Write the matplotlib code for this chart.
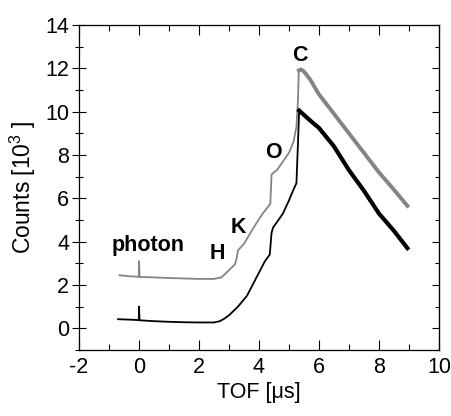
import matplotlib
matplotlib.use("Agg")
import matplotlib.pyplot as plt
from matplotlib.ticker import MultipleLocator

plt.rcParams['font.family'] = ['Liberation Sans', 'DejaVu Sans']
plt.rcParams['mathtext.fontset'] = 'custom'
plt.rcParams['mathtext.rm'] = 'Liberation Sans'
plt.rcParams['axes.unicode_minus'] = False

# Upper (gray) spectrum
gray_x = [-0.65, -0.3, -0.02, 0.0, 0.0, 0.02, 0.5, 1.0, 1.5, 2.0, 2.5, 2.75, 2.9, 3.05, 3.2,
          3.25, 3.3, 3.5, 3.8, 4.1, 4.3, 4.38, 4.42, 4.5, 4.6, 4.8, 5.0, 5.15, 5.25, 5.3,
          5.33, 5.4, 5.5, 5.7, 6.0, 6.5, 7.0, 7.5, 8.0, 8.5, 8.95]
gray_y = [2.45, 2.4, 2.38, 2.38, 3.1, 2.37, 2.35, 2.32, 2.3, 2.28, 2.28, 2.35, 2.55, 2.75, 2.95,
          3.2, 3.6, 3.9, 4.6, 5.25, 5.6, 5.75, 7.1, 7.2, 7.3, 7.7, 8.1, 8.6, 9.3, 10.5,
          11.9, 11.95, 11.85, 11.5, 10.8, 9.9, 9.0, 8.1, 7.2, 6.4, 5.65]

# Lower (black) spectrum
black_x = [-0.7, -0.3, -0.02, 0.0, 0.0, 0.02, 0.5, 1.0, 1.5, 2.0, 2.5, 2.7, 2.85, 3.0, 3.3,
           3.6, 3.9, 4.2, 4.36, 4.42, 4.47, 4.6, 4.8, 5.0, 5.15, 5.25, 5.3, 5.34, 5.5, 5.7,
           6.0, 6.5, 7.0, 7.5, 8.0, 8.5, 8.95]
black_y = [0.42, 0.4, 0.38, 0.38, 1.0, 0.37, 0.33, 0.3, 0.28, 0.27, 0.27, 0.33, 0.45, 0.6, 1.0,
           1.5, 2.3, 3.1, 3.4, 4.4, 4.65, 4.9, 5.3, 5.9, 6.4, 6.7, 8.5, 10.05, 9.85, 9.6,
           9.25, 8.4, 7.3, 6.35, 5.3, 4.5, 3.7]

labels = ["photon", "H", "K", "O", "C"]
label_x = [0.3, 2.63, 3.33, 4.47, 5.37]
label_y = [3.83, 3.45, 4.65, 8.1, 12.57]

fig = plt.figure(figsize=(4.52, 4.16), dpi=100)
ax = fig.add_axes([0.1748, 0.1587, 0.7962, 0.7813])

ax.plot(gray_x, gray_y, color='#848484', lw=1.3)
ax.plot(black_x, black_y, color='black', lw=1.3)
# thicker, noisy-looking decay parts
gi = gray_x.index(5.33)
bi = black_x.index(5.34)
ax.plot(gray_x[gi:], gray_y[gi:], color='#848484', lw=2.8)
ax.plot(black_x[bi:], black_y[bi:], color='black', lw=3.0)

for t, x, y in zip(labels, label_x, label_y):
    ax.text(x, y, t, fontsize=15.5, fontweight='bold', ha='center', va='center')

ax.set_xlim(-2, 10)
ax.set_ylim(-1, 14)
ax.xaxis.set_major_locator(MultipleLocator(2))
ax.xaxis.set_minor_locator(MultipleLocator(1))
ax.yaxis.set_major_locator(MultipleLocator(2))
ax.yaxis.set_minor_locator(MultipleLocator(1))

ax.tick_params(axis='x', which='both', direction='in', top=True, labelsize=15.5, pad=5)
ax.tick_params(axis='y', which='both', direction='inout', right=False, labelsize=15.5, pad=2)
ax.tick_params(which='major', length=7, width=0.8)
ax.tick_params(which='minor', length=4, width=0.8)
ax.tick_params(axis='y', which='major', length=10)
ax.tick_params(axis='y', which='minor', length=6)

# right-side inward ticks
axr = ax.secondary_yaxis('right')
axr.yaxis.set_major_locator(MultipleLocator(2))
axr.yaxis.set_minor_locator(MultipleLocator(1))
axr.tick_params(which='both', direction='in', labelright=False)
axr.tick_params(which='major', length=5, width=0.8)
axr.tick_params(which='minor', length=3, width=0.8)

ax.set_xlabel('TOF [\u03bcs]', fontsize=15.5, labelpad=3)
ax.set_ylabel('Counts [10$^3$ ]', fontsize=16.5, labelpad=5)

for s in ax.spines.values():
    s.set_linewidth(0.9)

fig.savefig('out.png', dpi=100)
